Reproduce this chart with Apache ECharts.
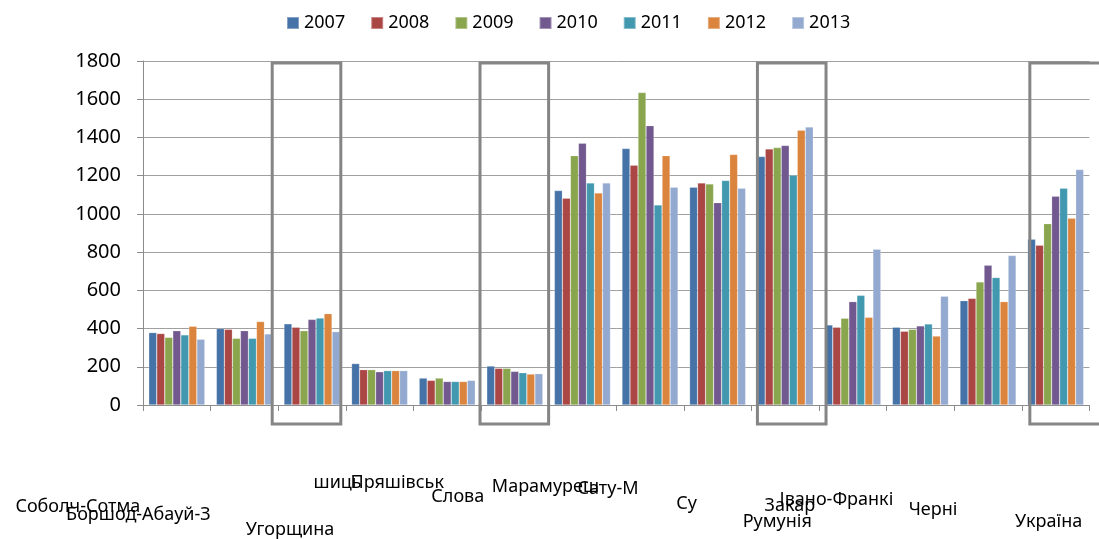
<!DOCTYPE html>
<html>
<head>
<meta charset="utf-8">
<script src="https://cdn.jsdelivr.net/npm/echarts@6/dist/echarts.min.js"></script>
<style>
html,body{margin:0;padding:0;background:#fff;}
#chart{width:1099px;height:539px;}
</style>
</head>
<body>
<div id="chart"></div>
<script>
const categories = ['Соболч-Сотма', 'Боршод-Абауй-З', 'Угорщина', 'шиць', 'Пряшівськ', 'Слова', 'Марамуреш', 'Сату-М', 'Су', 'Румунія', 'Закар', 'Івано-Франкі', 'Черні', 'Україна'];
const years = ['2007', '2008', '2009', '2010', '2011', '2012', '2013'];
const s2007 = [379, 400, 425, 217, 141, 204, 1122, 1342, 1140, 1300, 419, 407, 546, 867];
const s2008 = [374, 396, 407, 185, 129, 192, 1082, 1255, 1162, 1340, 407, 386, 558, 836];
const s2009 = [354, 349, 389, 185, 141, 192, 1305, 1635, 1157, 1347, 454, 396, 644, 949];
const s2010 = [389, 389, 448, 174, 123, 176, 1370, 1462, 1059, 1358, 541, 414, 731, 1092];
const s2011 = [367, 349, 455, 180, 123, 169, 1162, 1047, 1175, 1202, 574, 424, 667, 1134];
const s2012 = [412, 437, 478, 180, 123, 162, 1110, 1305, 1311, 1438, 459, 361, 541, 977];
const s2013 = [344, 372, 384, 180, 129, 164, 1162, 1140, 1134, 1455, 815, 569, 782, 1232];
const seriesValues = [s2007, s2008, s2009, s2010, s2011, s2012, s2013];
const yTicks = {min: 0, max: 1800, interval: 200};
const highlighted = ['Угорщина', 'Слова', 'Румунія', 'Україна'];

const colors = ['#4572A7', '#AA4643', '#89A54E', '#71588F', '#4198AF', '#DB843D', '#93A9CF'];
// label placement (pixel shifts relative to category centre / axis)
const labelDx = [-99, -106, -22, -42, -50, -57, -37, -42, -31, -8, -63, -84, -55, -7];
const labelY = [505, 513, 528, 481, 481, 495, 485, 487, 502, 520, 504, 498, 508, 520];
const boxDx = [-6, -1, 6, 8];
const boxExtra = [1, 1, 1, 14];

const rich = {};
categories.forEach((c, i) => {
  const dx = labelDx[i];
  const padTop = 2 * (labelY[i] - 421.5);
  rich['s' + i] = {
    fontSize: 18, lineHeight: 20, color: '#000', fontFamily: 'Noto Sans',
    padding: [Math.max(padTop, 0), dx < 0 ? -2 * dx : 0, 0, dx > 0 ? 2 * dx : 0]
  };
});

const chart = echarts.init(document.getElementById('chart'));
chart.setOption({
  animation: false,
  color: colors,
  textStyle: {fontFamily: 'Noto Sans'},
  legend: {
    data: years, left: 281, top: 9, itemWidth: 12, itemHeight: 12, itemGap: 25,
    icon: 'rect', textStyle: {fontSize: 18, color: '#000'}
  },
  grid: {left: 143, right: 4, top: 61, bottom: 134},
  xAxis: {
    type: 'category', data: categories,
    axisLine: {lineStyle: {color: '#8c8c8c', width: 1}},
    axisTick: {show: true, length: 6, lineStyle: {color: '#8c8c8c'}},
    axisLabel: {
      interval: 0, margin: 8,
      formatter: (v, i) => '{s' + i + '|' + v + '}',
      rich: rich
    }
  },
  yAxis: {
    type: 'value', min: yTicks.min, max: yTicks.max, interval: yTicks.interval,
    axisLine: {show: true, lineStyle: {color: '#8c8c8c'}},
    axisTick: {show: true, length: 6, lineStyle: {color: '#8c8c8c'}},
    axisLabel: {fontSize: 20, color: '#000', margin: 22, formatter: v => String(v)},
    splitLine: {lineStyle: {color: '#a0a0a0', width: 1}}
  },
  series: years.map((y, k) => ({
    name: y, type: 'bar', data: seriesValues[k],
    barGap: '0%', barCategoryGap: '17%',
    itemStyle: {borderColor: 'rgba(255,255,255,0.35)', borderWidth: 0.6}
  }))
});

function drawBoxes() {
  const c0 = chart.convertToPixel({xAxisIndex: 0}, 0);
  const c1 = chart.convertToPixel({xAxisIndex: 0}, 1);
  const band = c1 - c0;
  const yTop = chart.convertToPixel({yAxisIndex: 0}, yTicks.max);
  const yZero = chart.convertToPixel({yAxisIndex: 0}, 0);
  const elements = highlighted.map((name, j) => {
    const idx = categories.indexOf(name);
    const cx = chart.convertToPixel({xAxisIndex: 0}, idx);
    return {
      type: 'rect', z: 100,
      shape: {x: cx - band / 2 + boxDx[j], y: yTop + 2, width: band + boxExtra[j], height: yZero + 19 - yTop - 2},
      style: {fill: 'none', stroke: '#858585', lineWidth: 3}
    };
  });
  chart.setOption({graphic: elements});
}
drawBoxes();
</script>
</body>
</html>
